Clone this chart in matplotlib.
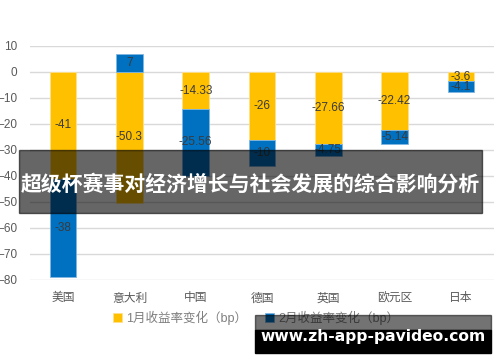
import numpy as np
import matplotlib
matplotlib.use("Agg")
import matplotlib.pyplot as plt
from matplotlib.patches import Rectangle

plt.rcParams['font.family'] = ['Liberation Sans', 'Noto Sans CJK SC', 'DejaVu Sans']

countries = ["美国", "意大利", "中国", "德国", "英国", "欧元区", "日本"]
jan = [-41, -50.3, -14.33, -26, -27.66, -22.42, -3.6]
feb = [-38, 7, -25.56, -10, -4.75, -5.14, -4.1]
jan_label = "1月收益率变化（bp）"
feb_label = "2月收益率变化（bp）"
yticks = [10, 0, -10, -20, -30, -40, -50, -60, -70, -80]
title = "超级杯赛事对经济增长与社会发展的综合影响分析"
watermark = "www.zh-app-pavideo.com"

yellow = "#FFC000"
blue = "#0070C0"

fig = plt.figure(figsize=(5, 3.62), dpi=100)
ax = fig.add_axes([30 / 500, 1 - 280 / 362, 464 / 500, 234 / 362])

x = np.arange(len(countries))
jan = np.array(jan)
feb = np.array(feb)
# excel style stacking: same sign stacks on top, opposite sign starts at zero
feb_bottom = np.where(np.sign(feb) == np.sign(jan), jan, 0)

ax.bar(x, jan, width=0.4, color=yellow, edgecolor="#ffe08a", linewidth=0.6,
       label=jan_label, zorder=3)
ax.bar(x, feb, width=0.4, bottom=feb_bottom, color=blue, edgecolor="#7fb5e0",
       linewidth=0.6, label=feb_label, zorder=3)

for i in range(len(x)):
    ax.text(x[i], jan[i] / 2, f"{jan[i]:g}", ha="center", va="center",
            fontsize=8.5, color="#3a3a3a", zorder=4)
    ax.text(x[i], feb_bottom[i] + feb[i] / 2, f"{feb[i]:g}", ha="center",
            va="center", fontsize=8.5, color="#3a3a3a", zorder=4)

ax.set_xlim(-0.5, len(countries) - 0.5)
ax.set_ylim(-80, 10)
ax.set_yticks(yticks)
ax.set_xticks(x)
ax.set_xticklabels(countries, fontsize=9.5, color="#595959")
ax.tick_params(axis="both", length=0, labelsize=8.5, colors="#595959")
ax.tick_params(axis="y", pad=9)
ax.tick_params(axis="x", pad=9)
ax.grid(axis="y", color="#d9d9d9", linewidth=1, zorder=0)
for s in ax.spines.values():
    s.set_visible(False)

fig.legend(loc="center", bbox_to_anchor=(0.512, 1 - 318 / 362), ncol=2,
           frameon=False, fontsize=9, handlelength=0.7, handleheight=0.7,
           handletextpad=0.3, columnspacing=1.5, labelcolor="#7f7f7f")

# dark banner with title
fig.patches.append(Rectangle((19 / 500, 1 - 213 / 362), 463 / 500, 63 / 362,
                             transform=fig.transFigure, color="black",
                             alpha=0.6, zorder=10))
fig.text(250 / 500, 1 - 184 / 362, title, ha="center", va="center",
         fontsize=15, fontweight="bold", color="white",
         family=["Noto Sans CJK SC", "DejaVu Sans"], zorder=11)

# watermark box
fig.patches.append(Rectangle((255 / 500, 1 - 330 / 362), 236 / 500, 15 / 362,
                             transform=fig.transFigure, color="black",
                             alpha=0.55, zorder=10))
fig.patches.append(Rectangle((255 / 500, 1 - 353 / 362), 236 / 500, 23 / 362,
                             transform=fig.transFigure, color="black",
                             zorder=10))
fig.text(373 / 500, 1 - 337 / 362, watermark, ha="center", va="center",
         fontsize=11.2, fontweight="bold", color="white",
         family="DejaVu Sans", zorder=11)

fig.savefig("out.png", dpi=100)
